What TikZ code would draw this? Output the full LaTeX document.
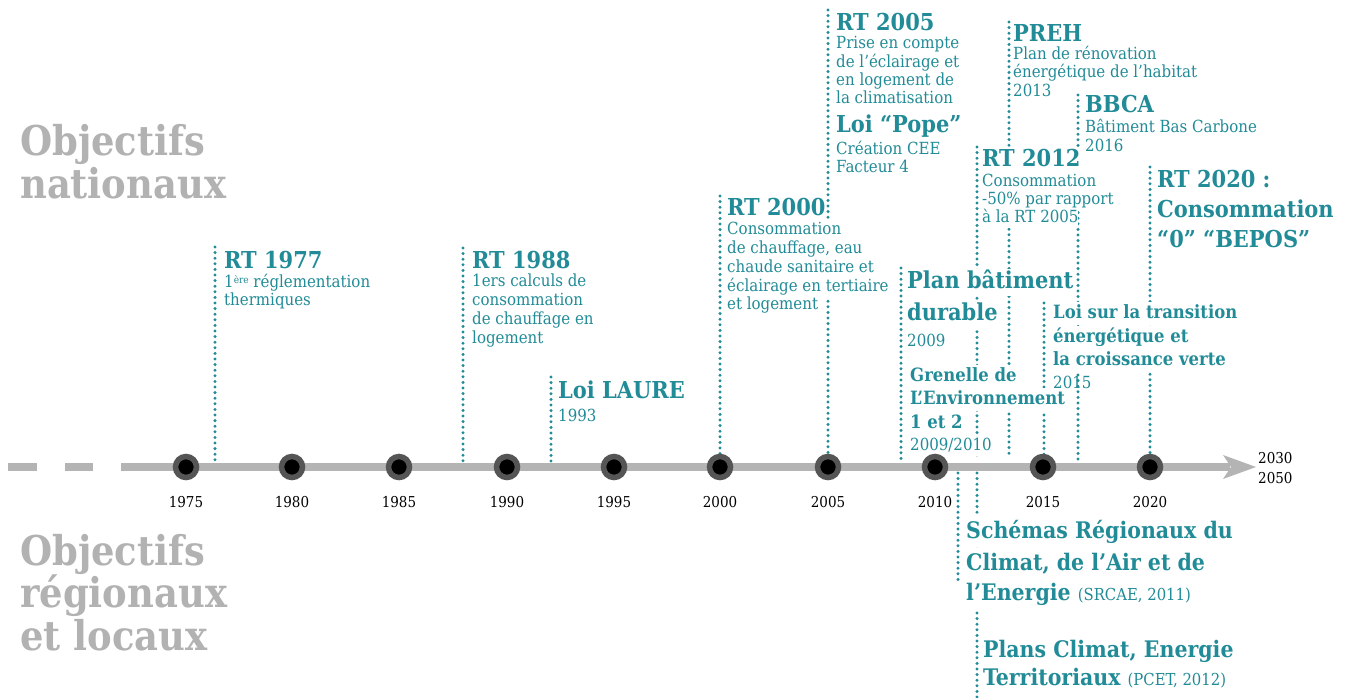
\documentclass[tikz,border=0pt]{standalone}
\usepackage{fontspec}
\setmainfont{DejaVu Serif Condensed}
\definecolor{tealc}{RGB}{33,139,151}
\definecolor{grayc}{RGB}{178,178,178}
\definecolor{axisc}{RGB}{180,180,180}
\definecolor{ringc}{RGB}{85,85,85}
\tikzset{
  dotline/.style={draw=tealc, line width=3.3pt, line cap=round, dash pattern=on 0pt off 5.6pt},
  txt/.style={anchor=base west, inner sep=0pt, text=tealc, execute at begin node={\strut}},
  hd/.style={txt, fill=white, font=\fontsize{23.3}{26}\selectfont\bfseries},
  bd/.style={txt, fill=white, font=\fontsize{16.7}{19}\selectfont},
  sb/.style={txt, fill=white, font=\fontsize{18.3}{23}\selectfont\bfseries},
  big/.style={txt, fill=white, font=\fontsize{22.8}{31}\selectfont\bfseries},
  gr/.style={anchor=base west, inner sep=0pt, text=grayc, font=\fontsize{41}{43}\selectfont\bfseries},
  yr/.style={anchor=base, inner sep=0pt, text=black, font=\fontsize{15}{17}\selectfont},
  yeardot/.style={circle, fill=black, draw=ringc, line width=5.5pt, minimum size=21pt, inner sep=0pt},
  axis/.style={draw=axisc, line width=7.5pt}
}
\begin{document}
\begin{tikzpicture}[x=1pt, y=-1pt]
\useasboundingbox (0,0) rectangle (1349,698);
\fill[white] (0,0) rectangle (1349,698);

% dotted marker lines
\draw[dotline] (215,247) -- (215,462);
\draw[dotline] (463,248) -- (463,462);
\draw[dotline] (551,377) -- (551,462);
\draw[dotline] (720,196) -- (720,456);
\draw[dotline] (828,10) -- (828,456);
\draw[dotline] (901,268) -- (901,460);
\draw[dotline] (977,147) -- (977,456);
\draw[dotline] (1009,22) -- (1009,456);
\draw[dotline] (1044,303) -- (1044,456);
\draw[dotline] (1078,95) -- (1078,460);
\draw[dotline] (1150,167) -- (1150,456);
\draw[dotline] (958,473) -- (958,583);
\draw[dotline] (977,473) -- (977,697);

% grey side labels
\node[gr] (gn1) at (20,155) {Objectifs};
\node[gr] (gn2) at (20,198) {nationaux};
\node[gr] (gr1) at (20,565) {Objectifs};
\node[gr] (gr2) at (20,607) {régionaux};
\node[gr] (gr3) at (20,650) {et locaux};

% RT 1977
\node[hd] (a1) at (224,268) {RT 1977};
\node[bd] (a2) at (224,287) {1\raisebox{4pt}{\fontsize{10}{11}\selectfont ère} réglementation};
\node[bd] (a3) at (224,305) {thermiques};
% RT 1988
\node[hd] (b1) at (472,268) {RT 1988};
\node[bd] (b2) at (472,286) {1ers calculs de};
\node[bd] (b3) at (472,305) {consommation};
\node[bd] (b4) at (472,324) {de chauffage en};
\node[bd] (b5) at (472,343) {logement};
% Loi LAURE
\node[hd] (c1) at (558,398) {Loi LAURE};
\node[bd] (c2) at (558,421) {1993};
% RT 2000
\node[hd] (d1) at (727,215) {RT 2000};
\node[bd] (d2) at (727,234) {Consommation};
\node[bd] (d3) at (727,253) {de chauffage, eau};
\node[bd] (d4) at (727,272) {chaude sanitaire et};
\node[bd] (d5) at (727,291) {éclairage en tertiaire};
\node[bd] (d6) at (727,309) {et logement};
% RT 2005 / Loi Pope
\node[hd] (e1) at (836,31) {RT 2005};
\node[bd] (e2) at (836,49) {Prise en compte};
\node[bd] (e3) at (836,68) {de l’éclairage et};
\node[bd] (e4) at (836,86) {en logement de};
\node[bd] (e5) at (836,104) {la climatisation};
\node[hd] (e6) at (836,133) {Loi “Pope”};
\node[bd] (e7) at (836,154) {Création CEE};
\node[bd] (e8) at (836,172) {Facteur 4};
% PREH
\node[hd] (f1) at (1013,42) {PREH};
\node[bd] (f2) at (1013,60) {Plan de rénovation};
\node[bd] (f3) at (1013,78) {énergétique de l’habitat};
\node[bd] (f4) at (1013,97) {2013};
% BBCA
\node[hd] (g1) at (1085,113) {BBCA};
\node[bd] (g2) at (1085,132) {Bâtiment Bas Carbone};
\node[bd] (g3) at (1085,151) {2016};
% RT 2012
\node[hd] (h1) at (982,167) {RT 2012};
\node[bd] (h2) at (982,186) {Consommation};
\node[bd] (h3) at (982,204) {-50\% par rapport};
\node[bd] (h4) at (982,222) {à la RT 2005};
% RT 2020
\node[hd] (i1) at (1157,187) {RT 2020 :};
\node[hd] (i2) at (1157,217) {Consommation};
\node[hd] (i3) at (1157,247) {“0” “BEPOS”};
% Plan batiment durable
\node[hd] (j1) at (907,288) {Plan bâtiment};
\node[hd] (j2) at (907,320) {durable};
\node[bd] (j3) at (907,346) {2009};
% Grenelle
\node[sb] (k1) at (910,381) {Grenelle de};
\node[sb] (k2) at (910,404) {L’Environnement};
\node[sb] (k3) at (910,428) {1 et 2};
\node[bd] (k4) at (910,450) {2009/2010};
% Loi transition
\node[sb] (l1) at (1053,318) {Loi sur la transition};
\node[sb] (l2) at (1053,342) {énergétique et};
\node[sb] (l3) at (1053,365) {la croissance verte};
\node[bd, fill=none] (l4) at (1053,388) {2015};
% Schemas regionaux
\node[big] (m1) at (966,538) {Schémas Régionaux du};
\node[big] (m2) at (966,570) {Climat, de l’Air et de};
\node[big] (m3) at (966,600) {l’Energie {\fontsize{16.5}{18}\selectfont\mdseries (SRCAE, 2011)}};
% PCET
\node[big] (n1) at (983,657) {Plans Climat, Energie};
\node[big] (n2) at (983,685) {Territoriaux {\fontsize{16.5}{18}\selectfont\mdseries (PCET, 2012)}};

% axis
\draw[axis] (8,467) -- (37,467);
\draw[axis] (65,467) -- (93,467);
\draw[axis] (121,467) -- (1230,467);
\fill[axisc] (1223,455) -- (1256,467) -- (1223,479) -- (1231,467) -- cycle;

\foreach \yy/\xx in {1975/186,1980/292,1985/399,1990/507,1995/614,2000/720,2005/828,2010/935,2015/1043,2020/1150}{
  \node[yeardot] (dot\yy) at (\xx,467) {};
  \node[yr] (yl\yy) at (\xx,507) {\yy};
}
\node[yr, anchor=base west] (y2030) at (1258,463) {2030};
\node[yr, anchor=base west] (y2050) at (1258,483) {2050};
\end{tikzpicture}
\end{document}
